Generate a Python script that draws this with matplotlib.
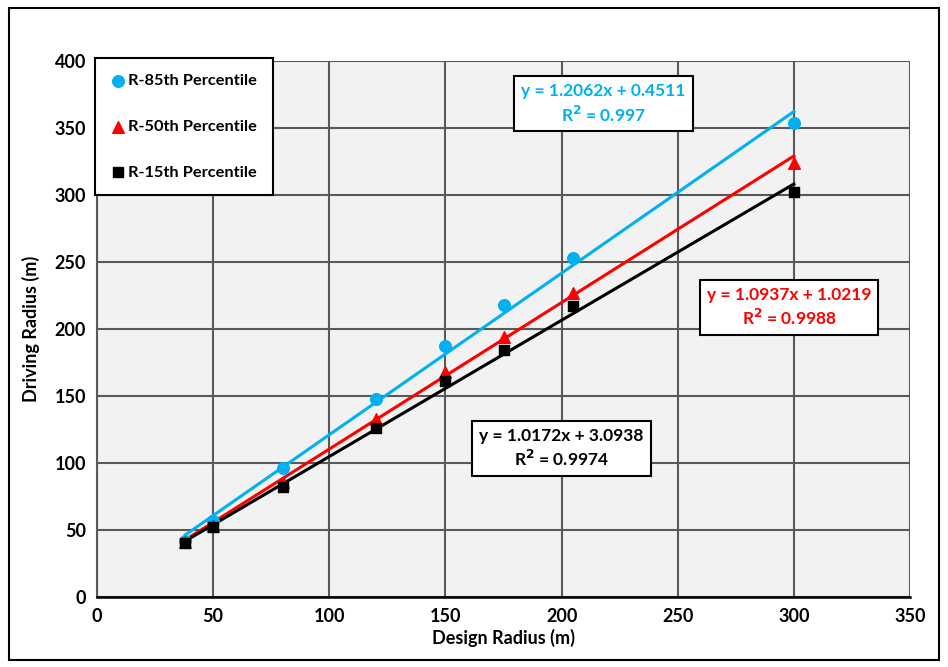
import numpy as np
import matplotlib.pyplot as plt
from matplotlib.patches import Rectangle

plt.rcParams['font.family'] = ['Lato', 'DejaVu Sans']
plt.rcParams['font.weight'] = 'bold'

design = [38, 50, 80, 120, 150, 175, 205, 300]
r85 = [42, 57, 96, 148, 187, 218, 253, 354]
r50 = [41, 53, 86, 133, 168, 194, 227, 324]
r15 = [40, 52, 82, 126, 161, 184, 217, 302]

# trendline coefficients (slope, intercept, R^2)
fit85 = (1.2062, 0.4511, '0.997')
fit50 = (1.0937, 1.0219, '0.9988')
fit15 = (1.0172, 3.0938, '0.9974')

c85 = '#00b0f0'
c50 = '#ff0000'
c15 = '#000000'

fig = plt.figure(figsize=(9.48, 6.67), dpi=100)
fig.patches.append(Rectangle((0.009, 0.011), 0.982, 0.977, transform=fig.transFigure,
                             fill=False, edgecolor='black', lw=1.5))
ax = fig.add_axes([0.1023, 0.105, 0.8577, 0.8035])
ax.set_facecolor('#f2f2f2')

xs = np.array([design[0], design[-1]])
for fit, col in [(fit85, c85), (fit50, c50), (fit15, c15)]:
    ax.plot(xs, fit[0] * xs + fit[1], color=col, lw=2.2, zorder=3)

ax.scatter(design, r85, marker='o', s=70, color=c85, zorder=4, label='R-85th Percentile')
ax.scatter(design, r50, marker='^', s=70, color=c50, zorder=4, label='R-50th Percentile')
ax.scatter(design, r15, marker='s', s=55, color=c15, zorder=4, label='R-15th Percentile')

ax.set_xlim(0, 350)
ax.set_ylim(0, 400)
ax.set_xticks(np.arange(0, 351, 50))
ax.set_yticks(np.arange(0, 401, 50))
ax.grid(True, color='#595959', lw=1.5)
ax.set_axisbelow(True)
ax.tick_params(length=0, labelsize=13, pad=8)
for lab in ax.get_xticklabels() + ax.get_yticklabels():
    lab.set_fontweight('bold')
for s in ['top', 'right']:
    ax.spines[s].set_visible(False)
ax.spines['left'].set_color('#595959')
ax.spines['left'].set_linewidth(1.5)
ax.spines['bottom'].set_color('black')
ax.spines['bottom'].set_linewidth(1.8)

ax.set_xlabel('Design Radius (m)', fontsize=13, fontweight='bold', labelpad=3)
ax.set_ylabel('Driving Radius (m)', fontsize=13, fontweight='bold', labelpad=10)

leg = ax.legend(loc='upper left', bbox_to_anchor=(-0.003, 1.005), fontsize=11.8,
                frameon=True, fancybox=False, edgecolor='black', framealpha=1,
                handletextpad=0.1, labelspacing=1.9, borderpad=0.95, handlelength=1.0,
                borderaxespad=0)
leg.get_frame().set_linewidth(1.5)
for t in leg.get_texts():
    t.set_fontweight('bold')

def eq_box(x, y, fit, col):
    txt = 'y = %.4fx + %.4f\nR$^{\\mathbf{2}}$ = %s' % (fit[0], fit[1], fit[2])
    ax.text(x, y, txt, color=col, fontsize=12.5, fontweight='bold', ha='center',
            va='center', linespacing=1.3, zorder=6,
            bbox=dict(boxstyle='square,pad=0.4', fc='white', ec='black', lw=1.5))

eq_box(218, 368, fit85, c85)
eq_box(298, 216, fit50, c50)
eq_box(200, 111, fit15, c15)

plt.savefig('out.png', dpi=100)
